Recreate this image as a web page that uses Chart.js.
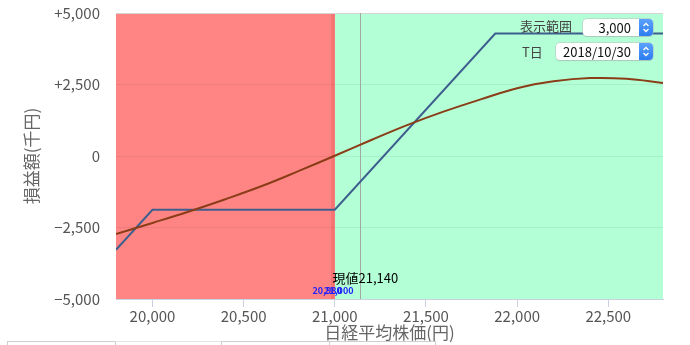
<!DOCTYPE html>
<html>
<head>
<meta charset="utf-8">
<script src="https://cdn.jsdelivr.net/npm/chart.js@4.4.1/dist/chart.umd.min.js"></script>
<style>
    body { margin: 0; background: #fff; font-family: 'Noto Sans CJK JP', sans-serif; }
    #wrap { position: relative; width: 690px; height: 345px; overflow: hidden; }
    canvas { position: absolute; left: 0; top: 0; }
    .lbl { position: absolute; font-size: 13px; color: #444; line-height: 16px; }
    .sel { position: absolute; background: #fff; border-radius: 4px; box-shadow: 0 0 0 0.5px #bbb, 0 1px 1px rgba(0,0,0,0.15);
           font-size: 13px; color: #111; line-height: 17px; text-align: right; box-sizing: border-box; padding-right: 22px; }
    .spin { position: absolute; right: 0; top: 0; bottom: 0; width: 14px; background: linear-gradient(#5aa2ff, #2c7cf0);
            border-radius: 0 4px 4px 0; }
    .tabs { position: absolute; top: 341px; height: 4px; border-top: 1px solid #cfcfcf; border-left: 1px solid #cfcfcf; box-sizing: border-box; }
</style>
</head>
<body>
<div id="wrap">
    <canvas id="chart" width="690" height="345"></canvas>
    <div class="lbl" style="left:520px; top:18px;">表示範囲</div>
    <div class="sel" style="left:583px; top:19px; width:70px; height:17px;">3,000<div class="spin"><svg width="14" height="17"><path d="M4.5 7 L7 4.5 L9.5 7 M4.5 10 L7 12.5 L9.5 10" stroke="#fff" stroke-width="1.3" fill="none"/></svg></div></div>
    <div class="lbl" style="left:522px; top:44px;">T日</div>
    <div class="sel" style="left:556px; top:43px; width:97px; height:17px;">2018/10/30<div class="spin"><svg width="14" height="17"><path d="M4.5 7 L7 4.5 L9.5 7 M4.5 10 L7 12.5 L9.5 10" stroke="#fff" stroke-width="1.3" fill="none"/></svg></div></div>
    <div class="tabs" style="left:7px; width:108px;"></div>
    <div class="tabs" style="left:115px; width:106px; border-top-color:#e4e4e4;"></div>
    <div class="tabs" style="left:221px; width:108px;"></div>
    <div class="tabs" style="left:329px; width:107px; border-right:1px solid #cfcfcf;"></div>
</div>
<script>
// 日経平均 (x) と損益 (千円)
const xRange = [19800, 22800];
const yRange = [-5000, 5000];
const xTickValues = [20000, 20500, 21000, 21500, 22000, 22500];
const yTickValues = [-5000, -2500, 0, 2500, 5000];

// 満期時損益 (青)
const expiryPrices = [19800, 20000, 21000, 21880, 22800];
const expiryPnl = [-3280, -1880, -1880, 4280, 4280];

// T日時点損益 (茶)
const tdayPrices = [19800, 20000, 20200, 20400, 20600, 20800, 21000, 21200, 21400, 21600, 21800, 22000, 22200, 22400, 22600, 22800];
const tdayPnl = [-2730, -2340, -1940, -1510, -1050, -530, 10, 560, 1090, 1560, 1980, 2370, 2610, 2725, 2700, 2554];

// 背景ゾーン
const lossZone = [19800, 21000];
const lossEdge = [20980, 21000];
const profitZone = [21000, 22800];
const currentPrice = 21140;
const strikeLabels = ['20,980', '21,000'];

const fmt = v => Math.abs(v).toLocaleString('en-US');
const fontFam = "'Noto Sans CJK JP', sans-serif";

const zonePlugin = {
    id: 'zones',
    beforeDraw(chart) {
        const {ctx, chartArea: a, scales: {x}} = chart;
        const box = (range, color) => {
            const l = x.getPixelForValue(range[0]), r = x.getPixelForValue(range[1]);
            ctx.fillStyle = color;
            ctx.fillRect(l, a.top, r - l, a.bottom - a.top);
        };
        ctx.save();
        box(profitZone, '#b3ffd6');
        box(lossZone, '#ff8585');
        box(lossEdge, '#f77272');
        ctx.restore();
    },
    beforeDatasetsDraw(chart) {
        const {ctx, chartArea: a, scales: {x}} = chart;
        const px = Math.round(x.getPixelForValue(currentPrice)) + 0.5;
        ctx.save();
        ctx.strokeStyle = '#a3a8a3';
        ctx.lineWidth = 1;
        ctx.beginPath();
        ctx.moveTo(px, a.top);
        ctx.lineTo(px, a.bottom);
        ctx.stroke();
        ctx.restore();
    },
    afterDatasetsDraw(chart) {
        const {ctx, chartArea: a, scales: {x}} = chart;
        ctx.save();
        ctx.font = '13px ' + fontFam;
        ctx.fillStyle = '#000';
        ctx.textBaseline = 'middle';
        ctx.textAlign = 'center';
        ctx.fillText('現値' + fmt(currentPrice), x.getPixelForValue(currentPrice) + 5, a.bottom - 21);
        ctx.font = 'bold 9px ' + fontFam;
        ctx.fillStyle = '#2020ff';
        ctx.fillText(strikeLabels[0], x.getPixelForValue(lossEdge[0]) - 4, a.bottom - 8);
        ctx.fillText(strikeLabels[1], x.getPixelForValue(lossEdge[1]) + 4, a.bottom - 8);
        ctx.restore();
    }
};

new Chart(document.getElementById('chart'), {
    type: 'line',
    data: {
        datasets: [
            {
                label: 'T日',
                data: tdayPrices.map((p, i) => ({x: p, y: tdayPnl[i]})),
                borderColor: '#8a3d17',
                borderWidth: 2,
                pointRadius: 0,
                tension: 0.4
            },
            {
                label: '満期',
                data: expiryPrices.map((p, i) => ({x: p, y: expiryPnl[i]})),
                borderColor: '#3e5f8e',
                borderWidth: 2,
                pointRadius: 0,
                tension: 0
            }
        ]
    },
    options: {
        responsive: false,
        animation: false,
        layout: {padding: {left: 0, right: 27, top: 13, bottom: 0}},
        plugins: {legend: {display: false}, tooltip: {enabled: false}},
        scales: {
            x: {
                type: 'linear',
                min: xRange[0],
                max: xRange[1],
                afterBuildTicks: scale => { scale.ticks = xTickValues.map(v => ({value: v})); },
                afterFit: scale => { scale.height = 46; },
                border: {color: '#c8d2e0'},
                grid: {drawOnChartArea: false, color: '#c8d2e0', tickLength: 8},
                ticks: {
                    padding: 0,
                    color: '#555',
                    font: {family: fontFam, size: 15},
                    callback: v => fmt(v),
                    maxRotation: 0
                },
                title: {display: true, text: '日経平均株価(円)', color: '#666', font: {family: fontFam, size: 17}, padding: {top: 0, bottom: 2}}
            },
            y: {
                min: yRange[0],
                max: yRange[1],
                afterBuildTicks: scale => { scale.ticks = yTickValues.map(v => ({value: v})); },
                afterFit: scale => { scale.width = 116; },
                border: {display: false},
                grid: {
                    drawTicks: true,
                    tickLength: 12,
                    tickColor: 'rgba(0,0,0,0)',
                    color: ctx => ctx.tick && ctx.tick.value === yRange[1] ? '#d4d4d4' : 'rgba(0,0,0,0.06)'
                },
                ticks: {
                    padding: 4,
                    color: '#555',
                    font: {family: fontFam, size: 15},
                    callback: v => v > 0 ? '+' + fmt(v) : v < 0 ? '−' + fmt(v) : '0'
                },
                title: {display: true, text: '損益額(千円)', color: '#666', font: {family: fontFam, size: 17}, padding: {top: 21, bottom: 0}}
            }
        }
    },
    plugins: [zonePlugin]
});
</script>
</body>
</html>
